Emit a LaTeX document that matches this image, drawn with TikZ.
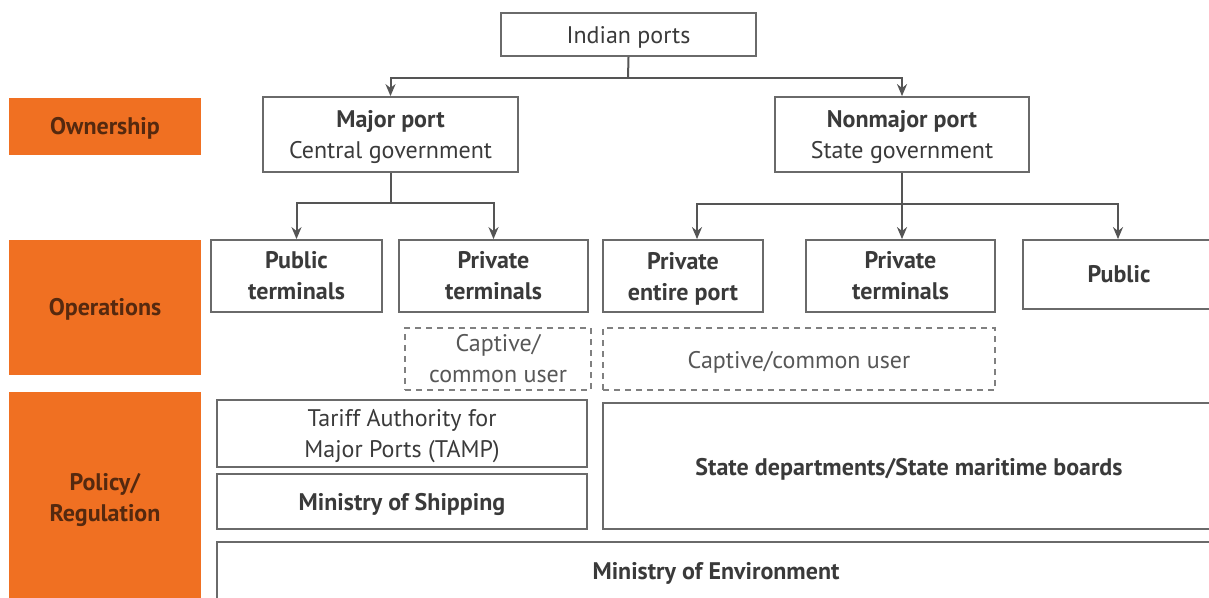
\documentclass[tikz,border=0pt]{standalone}
\usepackage{fontspec}
\setmainfont{PT Sans}
\usetikzlibrary{arrows.meta}
\definecolor{lineg}{HTML}{555555}
\definecolor{boxg}{HTML}{6A6A6A}
\definecolor{txt}{HTML}{3A3A3A}
\definecolor{orng}{HTML}{F07022}
\definecolor{otxt}{HTML}{55290F}
\definecolor{dashg}{HTML}{808080}
\newcommand\mytwo[2]{\begin{tabular}{@{}c@{}}\rule{0pt}{27pt}#1\\#2\end{tabular}}
\tikzset{
  plainbox/.style={draw=boxg, line width=1.8pt, fill=white, inner sep=0pt, align=center,
    text=txt, font=\fontsize{24}{31}\selectfont},
  box/.style={plainbox, execute at begin node={\rule{0pt}{23pt}}},
  bbox/.style={box, font=\fontsize{24}{31}\selectfont\bfseries},
  dbox/.style={box, draw=dashg, dash pattern=on 6pt off 5pt, text=txt!85},
  lab/.style={fill=orng, inner sep=0pt, align=center, text=otxt,
    font=\fontsize{24}{31}\selectfont\bfseries, execute at begin node={\rule{0pt}{21pt}}},
  conn/.style={draw=lineg, line width=2pt},
  arr/.style={conn, -{Stealth[length=12pt,width=10pt]}},
}
\begin{document}
\begin{tikzpicture}[x=1pt,y=-1pt]
\useasboundingbox (0,0) rectangle (1209,597);
\clip (0,0) rectangle (1209,597);
% category labels
\node[lab, minimum width=192pt, minimum height=57pt] (own) at (105,126.5) {Ownership};
\node[lab, minimum width=192pt, minimum height=135pt] (ops) at (105,307.5) {Operations};
\node[lab, minimum width=192pt, minimum height=215pt] (pol) at (105,499.5) {Policy/\\Regulation};
% ownership
\node[box, minimum width=255pt, minimum height=43pt] (ports) at (628.5,34.5) {Indian ports};
\node[plainbox, minimum width=255pt, minimum height=75pt] (major) at (390.5,134.5) {\mytwo{\textbf{Major port}}{Central government}};
\node[plainbox, minimum width=254pt, minimum height=75pt] (nonmajor) at (902,134.5) {\mytwo{\textbf{Nonmajor port}}{State government}};
% operations
\node[bbox, minimum width=171pt, minimum height=72pt] (pubt) at (296.5,276) {Public\\terminals};
\node[bbox, minimum width=189pt, minimum height=72pt] (privt) at (493.5,276) {Private\\terminals};
\node[plainbox, font=\fontsize{24}{31}\selectfont\bfseries, minimum width=160pt, minimum height=72pt] (privep) at (683,276) {\mytwo{Private}{entire port}};
\node[bbox, minimum width=189pt, minimum height=72pt] (privt2) at (900.5,276) {Private\\terminals};
\node[plainbox, font=\fontsize{24}{31}\selectfont\bfseries, minimum width=192pt, minimum height=69pt] (public) at (1119,274.5) {Public};
\node[dbox, minimum width=186pt, minimum height=62pt] (cap1) at (498,359) {Captive/\\common user};
\node[dbox, minimum width=392pt, minimum height=62pt] (cap2) at (799,359) {Captive/common user};
% policy
\node[plainbox, minimum width=370pt, minimum height=61pt] (tamp) at (402,433.5) {\mytwo{Tariff Authority for}{Major Ports (TAMP)}};
\node[bbox, minimum width=370pt, minimum height=55pt] (mos) at (402,501.5) {Ministry of Shipping};
\node[bbox, minimum width=612pt, minimum height=126pt] (sdept) at (909,466) {State departments/State maritime boards};
\node[plainbox, font=\fontsize{24}{31}\selectfont\bfseries, minimum width=998pt, minimum height=63pt, text depth=0pt] (moe) at (716,573.5) {\raisebox{5pt}{Ministry of Environment}};
% connectors
\coordinate (j1) at (628,78);
\draw[conn] (ports.south) -- (j1);
\draw[arr] (j1) -| (major.north);
\draw[arr] (j1) -| (nonmajor.north);
\coordinate (j2) at (391,203);
\draw[conn] (j2 |- major.south) -- (j2);
\draw[arr] (j2) -| (pubt.north);
\draw[arr] (j2) -| (privt.north);
\coordinate (j3) at (902,204);
\coordinate (a3) at (697,204);
\coordinate (c3) at (1118,204);
\draw[conn] (nonmajor.south) -- (j3);
\draw[arr] (j3) -- (j3 |- privt2.north);
\draw[arr] (j3) -- (a3) -- (a3 |- privep.north);
\draw[arr] (j3) -- (c3) -- (c3 |- public.north);
\end{tikzpicture}
\end{document}
